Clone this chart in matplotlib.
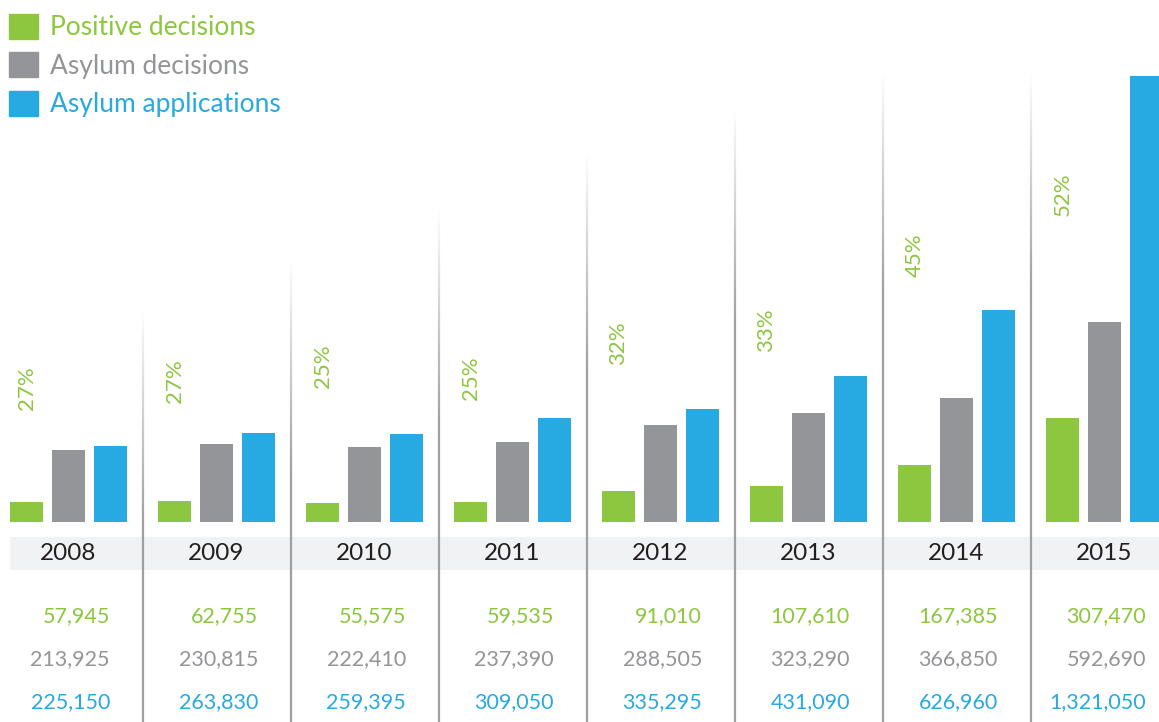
import numpy as np
import matplotlib.pyplot as plt
from matplotlib.patches import Patch
from matplotlib.collections import LineCollection
import matplotlib.transforms as mtransforms

plt.rcParams['font.family'] = ['Lato', 'DejaVu Sans']

# data
years = ['2008', '2009', '2010', '2011', '2012', '2013', '2014', '2015']
positive = [57945, 62755, 55575, 59535, 91010, 107610, 167385, 307470]
decisions = [213925, 230815, 222410, 237390, 288505, 323290, 366850, 592690]
applications = [225150, 263830, 259395, 309050, 335295, 431090, 626960, 1321050]
pct_labels = ['27%', '27%', '25%', '25%', '32%', '33%', '45%', '52%']

# colours
c_green = '#8dc63f'
c_gray = '#939598'
c_blue = '#27aae1'
c_dark = '#231f20'

# layout (hand placed in the original)
pct_label_y = [332000, 352000, 397000, 361000, 465000, 503000, 726000, 906000]
sep_tops = [0.571, 0.640, 0.709, 0.785, 0.848, 0.896, 0.896]
upp = 1321050 / 446.0  # value units per pixel

fig = plt.figure(figsize=(11.59, 7.22), dpi=100)
ax = fig.add_axes([0, 0, 1, 1])
ax.axis('off')
ax.set_xlim(-68.5 / 148, (1159 - 68.5) / 148)
ax.set_ylim(-200 * upp, 522 * upp)

x = np.arange(len(years))
off = 42 / 148.
w = 33 / 148.
ax.bar(x - off, positive, w, color=c_green, zorder=3)
ax.bar(x, decisions, w, color=c_gray, zorder=3)
ax.bar(x + off, applications, w, color=c_blue, zorder=3)

trans = mtransforms.blended_transform_factory(ax.transData, ax.transAxes)

# year band
band_lo, band_hi = (722 - 570) / 722., (722 - 537) / 722.
ax.fill_between([x[0] - off - w / 2, 7.5 + 1], band_lo, band_hi, color='#f1f2f3',
                transform=trans, zorder=1, lw=0)

# separators fading upwards
for i, top in enumerate(sep_tops):
    xs = i + 0.5
    ys = np.linspace(0, top, 120)
    segs = [[(xs, ys[k]), (xs, ys[k + 1])] for k in range(len(ys) - 1)]
    fade = 0.30
    alphas = np.clip((top - ys[:-1]) / fade, 0, 1)
    cols = [(0.62, 0.62, 0.64, a) for a in alphas]
    lc = LineCollection(segs, colors=cols, linewidths=1.6, transform=trans, zorder=2)
    ax.add_collection(lc)

for i in range(len(years)):
    ax.text(x[i], (722 - 554) / 722., years[i], transform=trans, ha='center', va='center',
            fontsize=17.5, color=c_dark, zorder=4)
    ax.text(x[i] - off, pct_label_y[i], pct_labels[i], rotation=90, ha='center', va='bottom',
            fontsize=16, color=c_green, zorder=4)
    for val, col, yy in [(positive[i], c_green, 616), (decisions[i], c_gray, 659),
                         (applications[i], c_blue, 702)]:
        ax.text(x[i] + 0.28, (722 - yy) / 722., f'{val:,}', transform=trans, ha='right',
                va='center', fontsize=15.5, color=col, zorder=4)

handles = [Patch(color=c_green, label='Positive decisions'),
           Patch(color=c_gray, label='Asylum decisions'),
           Patch(color=c_blue, label='Asylum applications')]
leg = ax.legend(handles=handles, loc='upper left', bbox_to_anchor=(0.0, 0.994),
                frameon=False, fontsize=19, handlelength=1.1, handleheight=1.1,
                handletextpad=0.45, labelspacing=0.45, borderaxespad=0.2,
                labelcolor=[c_green, c_gray, c_blue], borderpad=0.15)

fig.savefig('out.png', dpi=100)
